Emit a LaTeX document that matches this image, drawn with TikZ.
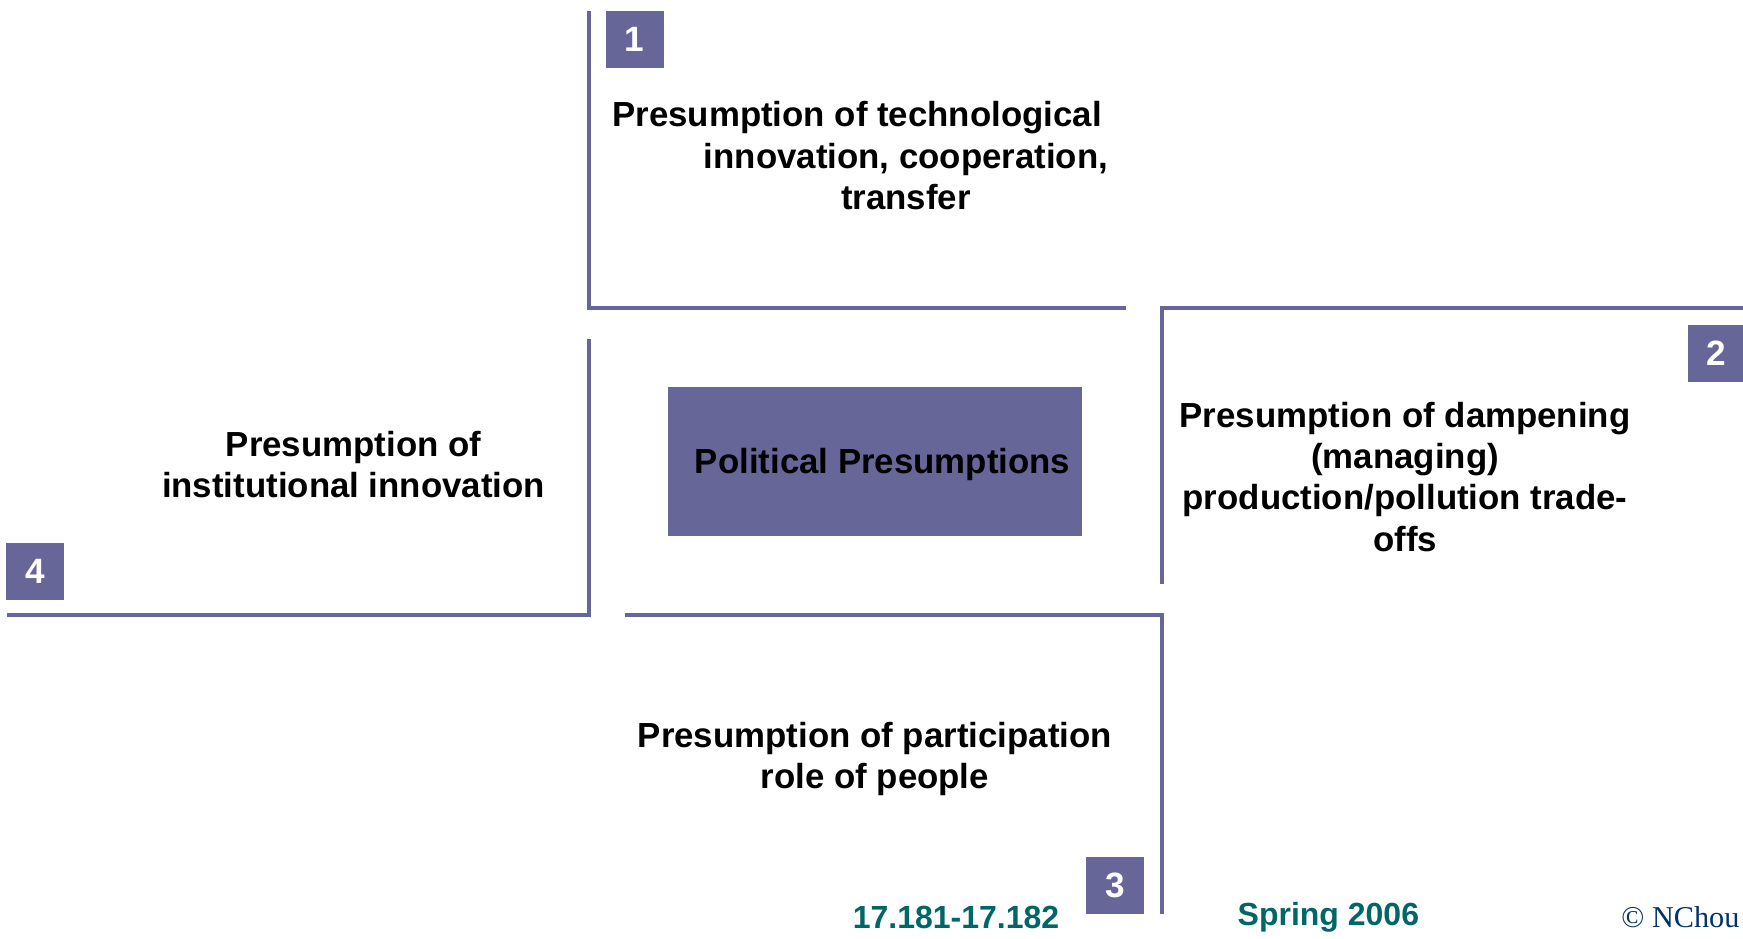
\documentclass[tikz,border=0pt]{standalone}
\usepackage{fontspec}
\setmainfont{Liberation Sans}
\newfontfamily\copyfont{Liberation Serif}
\usepackage{xcolor}
\usepackage{tikz}
\usetikzlibrary{positioning}
\definecolor{SlatePurple}{RGB}{102,102,153}
\definecolor{FootTeal}{RGB}{0,102,102}
\definecolor{CopyNavy}{RGB}{0,51,102}

\begin{document}
\begin{tikzpicture}[x=0.011116cm, y=-0.011116cm,
          numbx/.style={rectangle, fill=SlatePurple, text=white,
                        minimum width=16.4pt, minimum height=16.1pt,
                        inner sep=0pt, font=\fontsize{10pt}{12pt}\selectfont\bfseries},
          lbl/.style={align=center, inner sep=0pt,
                      font=\fontsize{9.9pt}{11.7pt}\selectfont\bfseries},
          ln/.style={draw=SlatePurple, line width=1.2pt},
          foot/.style={inner sep=0pt, font=\fontsize{9.1pt}{11pt}\selectfont\bfseries,
                       text=FootTeal}
        ]
        \useasboundingbox (0,0) rectangle (1568,844);

        % the four L-shaped frames
        \draw[ln] (530,10) -- (530,277) -- (1013,277);
        \draw[ln] (1570,277) -- (1045,277) -- (1045,525);
        \draw[ln] (562,553) -- (1045,553) -- (1045,822);
        \draw[ln] (530,305) -- (530,553) -- (6,553);

        % centre box
        \node[rectangle, fill=SlatePurple, minimum width=4.135cm,
              minimum height=1.49cm, inner sep=0pt, text depth=0pt,
              font=\fontsize{9.9pt}{11.7pt}\selectfont\bfseries] (ctr) at (787,415)
              {\hspace*{4.4pt}Political Presumptions};

        % numbered tags
        \node[numbx] (n1) at (571,35.5)  {1};
        \node[numbx] (n2) at (1544,318)  {2};
        \node[numbx] (n3) at (1003,796.5) {3};
        \node[numbx] (n4) at (31.5,514)  {4};

        % quadrant texts
        \node[lbl] (t1) at (815,140)
              {Presumption of technological\hspace*{27.8pt}\\
               innovation, cooperation,\\transfer};
        \node[lbl] (t2) at (1264,429)
              {Presumption of dampening\\(managing)\\
               production/pollution trade-\\offs};
        \node[lbl] (t3) at (787,683)
              {Presumption of participation\\role of people};
        \node[lbl] (t4) at (318,418)
              {Presumption of\\institutional innovation};

        % footer
        \node[foot] (ft1) at (860,825) {17.181-17.182};
        \node[foot] (ft2) at (1195,825) {Spring 2006};
        \node[inner sep=0pt, anchor=west, text=CopyNavy,
              font=\fontsize{8.6pt}{10pt}\selectfont\copyfont] (ft3) at (1458,825)
              {© NChou};
      \end{tikzpicture}
\end{document}
